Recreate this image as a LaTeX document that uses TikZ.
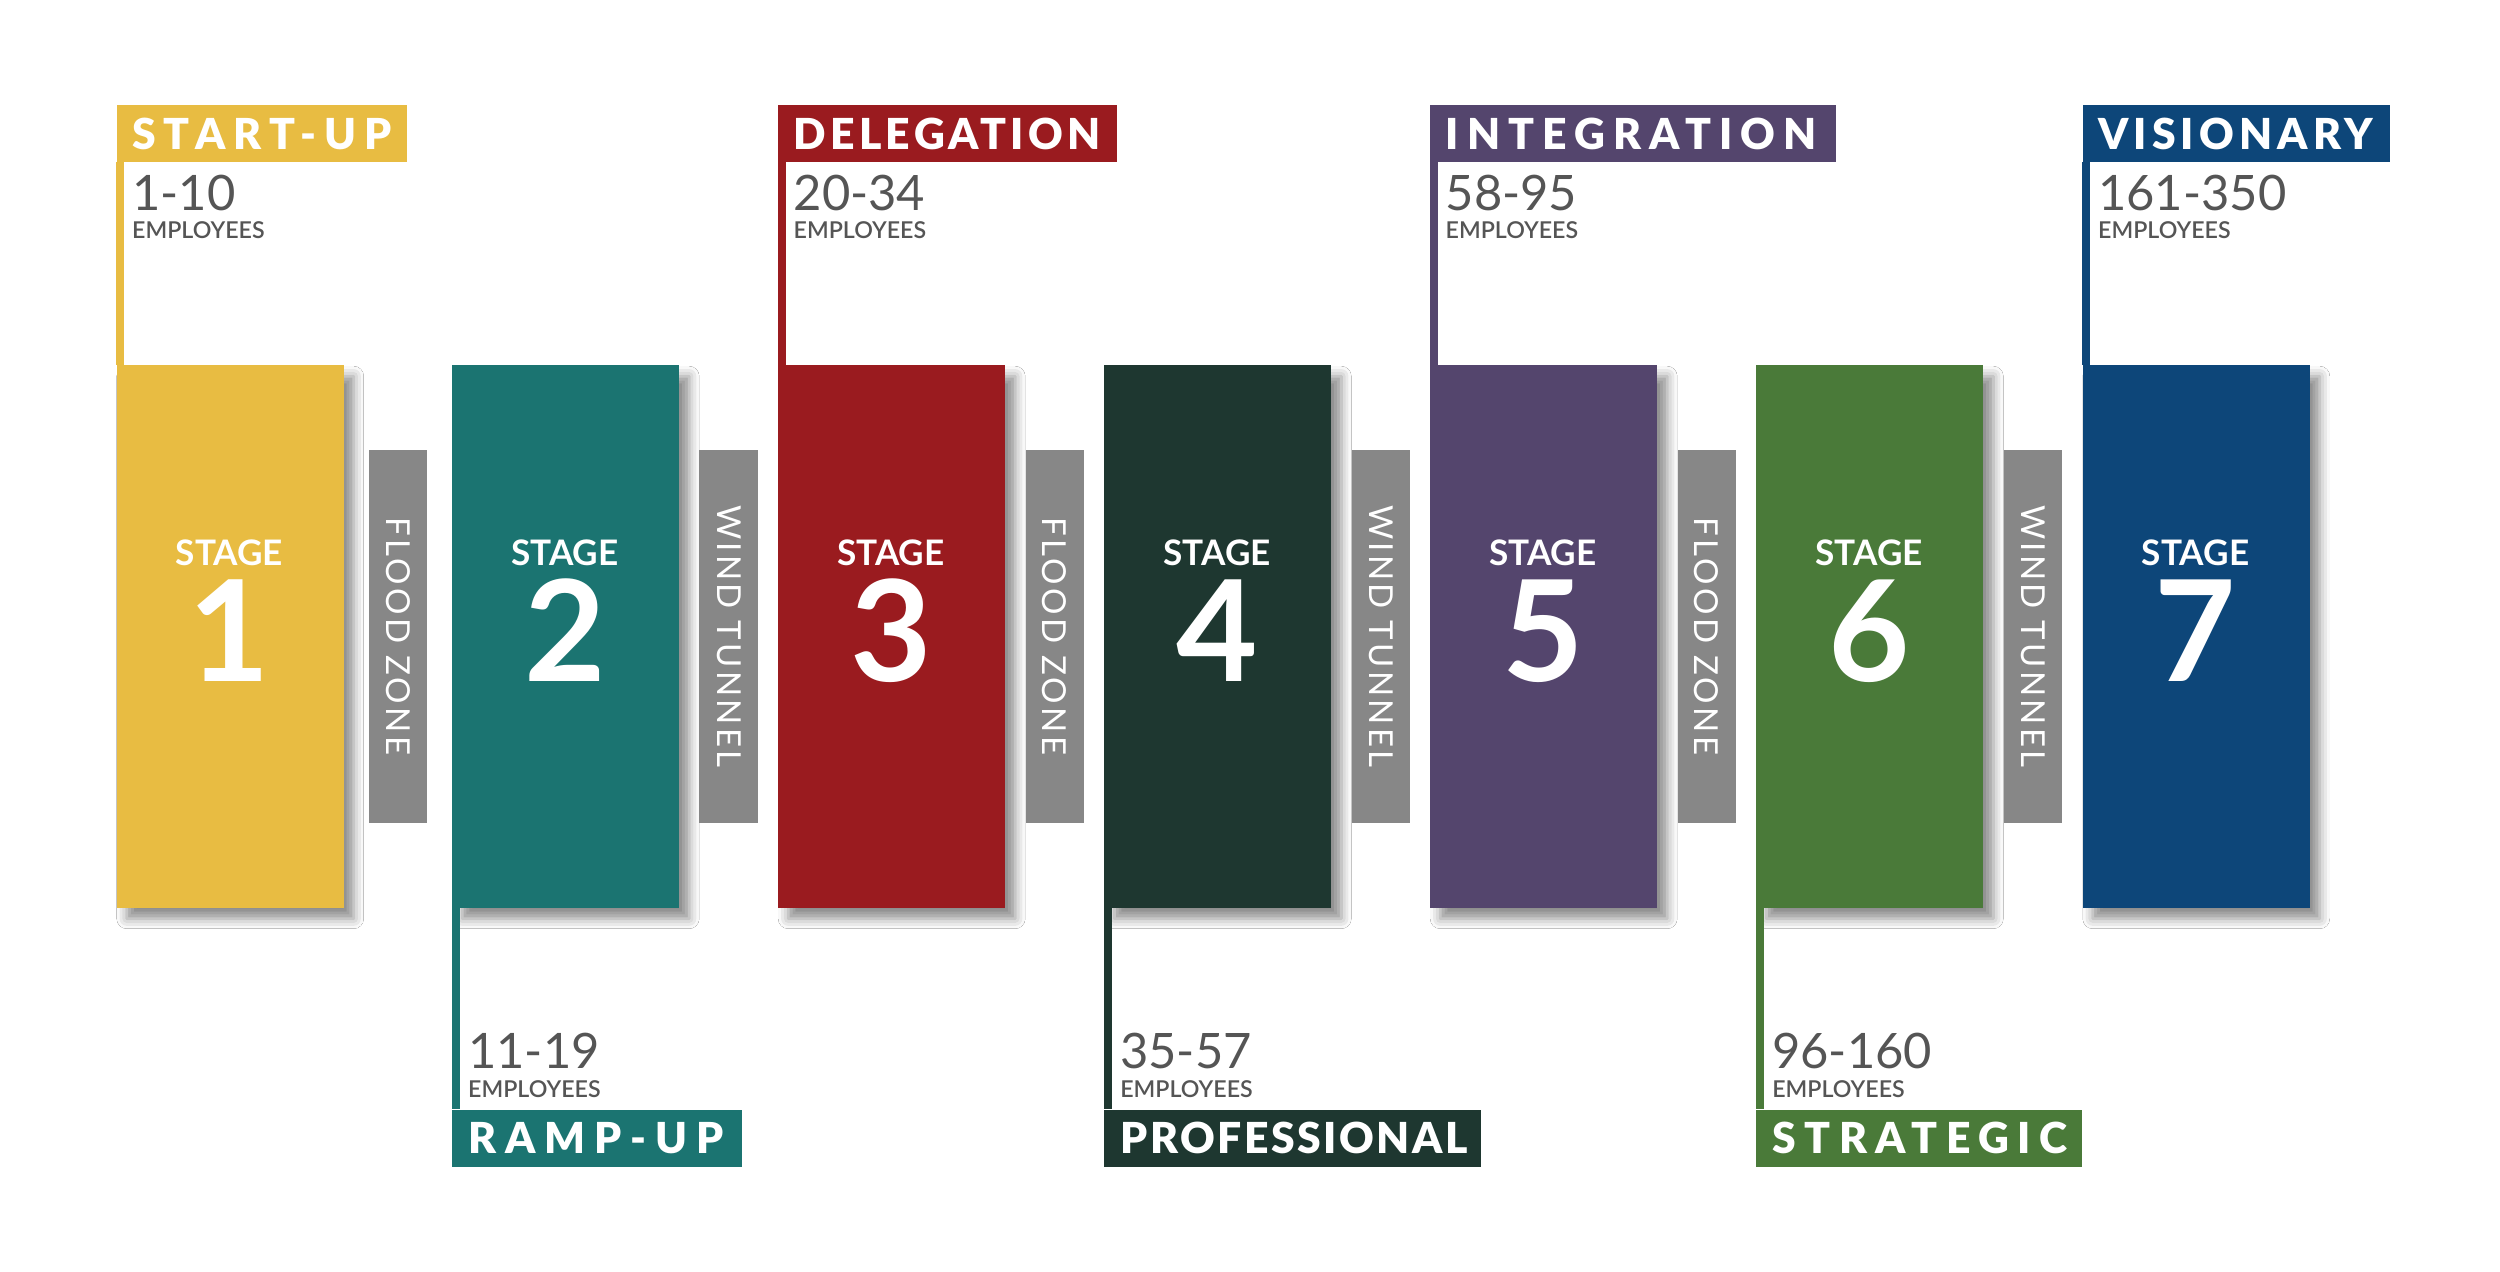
\documentclass[tikz,border=0pt]{standalone}
\usepackage{fontspec}
\setmainfont{Lato}
\newfontfamily\latoblack{Lato Black}
\newfontfamily\latosemi{Lato Semibold}
\usetikzlibrary{calc,shadows.blur}
\definecolor{stageyellow}{HTML}{E8BC42}
\definecolor{stageteal}{HTML}{1B7471}
\definecolor{stagered}{HTML}{9A1B1F}
\definecolor{stagedark}{HTML}{1E3730}
\definecolor{stagepurple}{HTML}{54456D}
\definecolor{stagegreen}{HTML}{4A7A39}
\definecolor{stageblue}{HTML}{0D4679}
\definecolor{zonegray}{HTML}{878787}
\definecolor{textgray}{HTML}{555555}
\begin{document}
\begin{tikzpicture}[x=0.1mm,y=-0.1mm,
    stagebox/.style={rectangle,inner sep=0,minimum width=22.7mm,minimum height=54.25mm,anchor=north west,
      blur shadow={shadow xshift=1mm,shadow yshift=-1.1mm,shadow blur radius=1mm,shadow opacity=45}},
    stagetext/.style={inner sep=0,text=white,font=\bfseries\fontsize{10}{12}\selectfont},
    stagenum/.style={inner sep=0,text=white,font=\bfseries\fontsize{40}{44}\selectfont},
    zonebar/.style={rectangle,inner sep=0,fill=zonegray,minimum width=37.3mm,minimum height=5.85mm,rotate=-90,
      text=white,font=\fontsize{9.4}{11}\selectfont\addfontfeatures{LetterSpace=10}},
    labbox/.style={rectangle,inner sep=0,minimum height=5.7mm},
    labtext/.style={inner sep=0,text=white,font=\latoblack\fontsize{12.15}{14}\selectfont},
    rangetext/.style={inner sep=0,text=textgray,font=\fontsize{13.9}{16}\selectfont},
    emptext/.style={inner sep=0,text=textgray,font=\latosemi\fontsize{6.6}{8}\selectfont}]
  \fill[white] (0,0) rectangle (2500,1272);
  \useasboundingbox (0,0) rectangle (2500,1272);
  % stages
  \foreach \i/\x/\col in {1/116/stageyellow,2/451.5/stageteal,3/777.5/stagered,4/1103.6/stagedark,
      5/1429.5/stagepurple,6/1755.6/stagegreen,7/2082/stageblue} {
    \node[stagebox,fill=\col] (stage\i) at (\x,364.5) {};
    \node[stagetext,anchor=base] (st\i) at (\x+113.5,565) {STAGE};
    \node[stagenum,anchor=base] (sn\i) at (\x+113.5,681) {\i};
  }
  % zones between stages
  \foreach \a/\b/\txt in {1/2/FLOOD ZONE,2/3/WIND TUNNEL,3/4/FLOOD ZONE,4/5/WIND TUNNEL,
      5/6/FLOOD ZONE,6/7/WIND TUNNEL} {
    \node[zonebar] (zone\a) at ($(stage\a.east)!0.5!(stage\b.west)$) {\txt};
  }
  % labels above
  \foreach \i/\col/\lab/\range/\ls/\w in {1/stageyellow/START-UP/1-10/19/290,3/stagered/DELEGATION/20-34/10/339,
      5/stagepurple/INTEGRATION/58-95/19/405.5,7/stageblue/VISIONARY/161-350/12/307} {
    \node[labbox,fill=\col,minimum width=\w*0.1mm,anchor=north west] (lab\i) at ([yshift=26.05mm]stage\i.north west) {};
    \node[labtext,anchor=base west] (lt\i) at ([xshift=1.55mm,yshift=1.27mm]lab\i.south west) {\addfontfeatures{LetterSpace=\ls}\lab};
    \node[rangetext,anchor=base west] (rg\i) at ([xshift=1.55mm,yshift=-4.85mm]lab\i.south west) {\range};
    \node[emptext,anchor=base west] (em\i) at ([xshift=1.55mm,yshift=-7.65mm]lab\i.south west) {EMPLOYEES};
    \draw[\col,line width=0.8mm] ([xshift=0.4mm]lab\i.south west) -- ([xshift=0.4mm]stage\i.north west);
  }
  % labels below
  \foreach \i/\col/\lab/\range/\ls/\w in {2/stageteal/RAMP-UP/11-19/21/290,4/stagedark/PROFESSIONAL/35-57/6/377,
      6/stagegreen/STRATEGIC/96-160/20/326} {
    \node[labbox,fill=\col,minimum width=\w*0.1mm,anchor=north west] (lab\i) at ([yshift=-20.1mm]stage\i.south west) {};
    \node[labtext,anchor=base west] (lt\i) at ([xshift=1.6mm,yshift=-4.45mm]lab\i.north west) {\addfontfeatures{LetterSpace=\ls}\lab};
    \node[rangetext,anchor=base west] (rg\i) at ([xshift=1.6mm,yshift=4.1mm]lab\i.north west) {\range};
    \node[emptext,anchor=base west] (em\i) at ([xshift=1.6mm,yshift=1.2mm]lab\i.north west) {EMPLOYEES};
    \draw[\col,line width=0.8mm] ([xshift=0.4mm]stage\i.south west) -- ([xshift=0.4mm]lab\i.north west);
  }
\end{tikzpicture}
\end{document}
